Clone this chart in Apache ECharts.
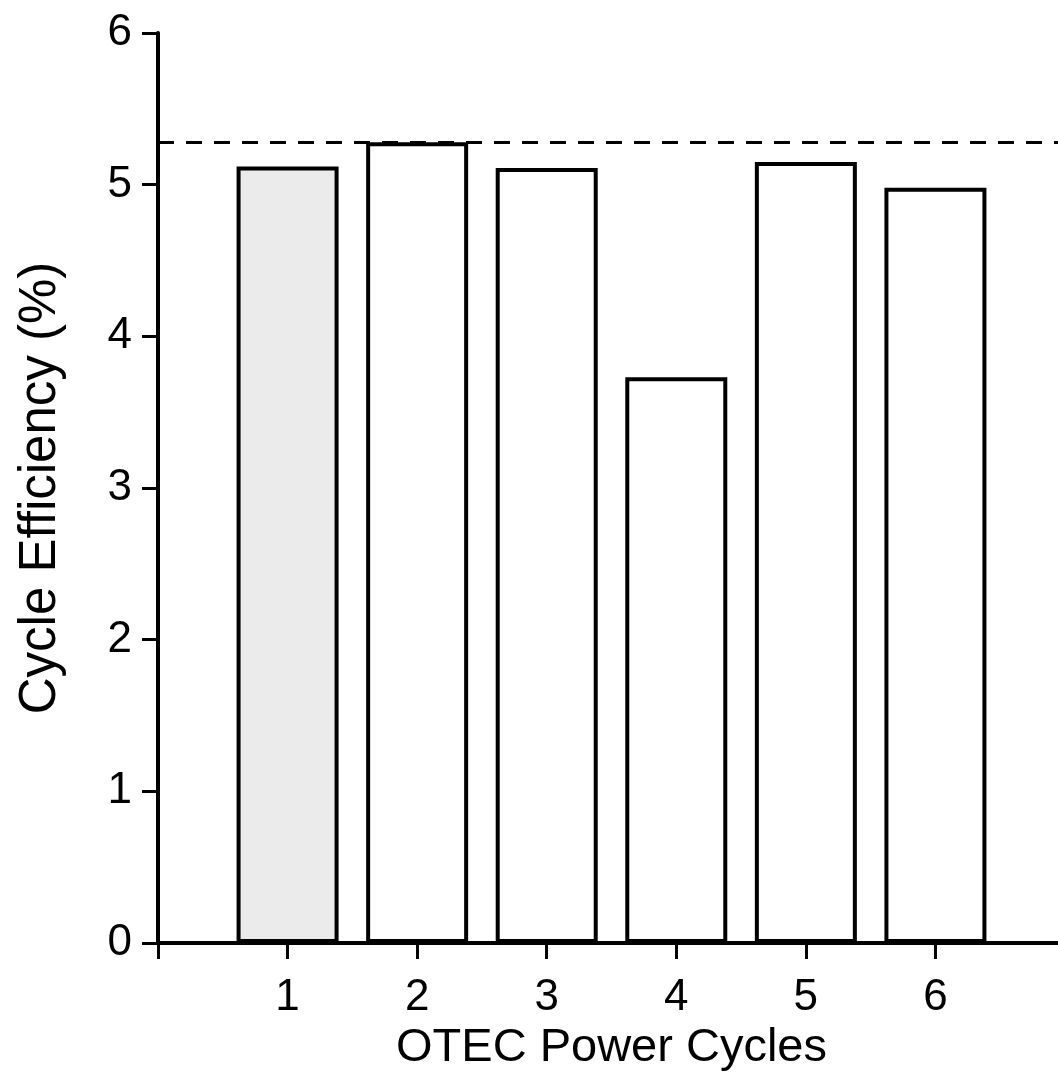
<!DOCTYPE html>
<html>
<head>
<meta charset="utf-8">
<script src="https://cdn.jsdelivr.net/npm/echarts@6/dist/echarts.min.js"></script>
<style>
  html, body { margin: 0; padding: 0; background: #fff; }
  #main { width: 1058px; height: 1087px; }
</style>
</head>
<body>
<div id="main"></div>
<script>
// data
var cycles = [1, 2, 3, 4, 5, 6];
var efficiency = [5.12, 5.28, 5.11, 3.73, 5.15, 4.98];
var barFills = ['#ebebeb', '#ffffff', '#ffffff', '#ffffff', '#ffffff', '#ffffff'];
var carnotLimit = 5.28;
var yTicks = [0, 1, 2, 3, 4, 5, 6];

var font = 'Liberation Sans, Arial, sans-serif';

var chart = echarts.init(document.getElementById('main'));

var barData = cycles.map(function (c, i) {
  return {
    value: [c, efficiency[i]],
    itemStyle: { color: barFills[i] }
  };
});

var option = {
  animation: false,
  backgroundColor: '#fff',
  // plot runs a little past the right edge of the picture
  grid: { left: 158, top: 33, width: 907, height: 910, outerBoundsMode: 'none', containLabel: false },
  xAxis: [
    {
      type: 'value',
      min: 0,
      max: 7,
      interval: 1,
      name: 'OTEC Power Cycles',
      nameLocation: 'middle',
      nameGap: 78,
      nameTextStyle: { fontFamily: font, fontSize: 47, color: '#000' },
      axisLine: { show: true, onZero: false, lineStyle: { color: '#000', width: 4 } },
      axisTick: { show: true, length: 16, lineStyle: { color: '#000', width: 3 } },
      axisLabel: {
        margin: 33,
        fontFamily: font,
        fontSize: 44,
        color: '#000',
        formatter: function (v) { return cycles.indexOf(v) >= 0 ? String(v) : ''; }
      },
      splitLine: { show: false }
    },
    {
      type: 'value',
      position: 'top',
      min: 0,
      max: 7,
      axisLine: { show: true, lineStyle: { color: '#000', width: 4 } },
      axisTick: { show: false },
      axisLabel: { show: false },
      splitLine: { show: false }
    }
  ],
  yAxis: {
    type: 'value',
    min: yTicks[0],
    max: yTicks[yTicks.length - 1],
    interval: 1,
    name: 'Cycle Efficiency (%)',
    nameLocation: 'middle',
    nameGap: 92,
    nameTextStyle: { fontFamily: font, fontSize: 51, color: '#000' },
    axisLine: { show: true, lineStyle: { color: '#000', width: 4 } },
    axisTick: { show: true, length: 16, lineStyle: { color: '#000', width: 3 } },
    axisLabel: { margin: 26, fontFamily: font, fontSize: 44, color: '#000' },
    splitLine: { show: false }
  },
  series: [
    {
      type: 'bar',
      xAxisIndex: 0,
      data: barData,
      barWidth: 102,
      itemStyle: { borderColor: '#000', borderWidth: 4 },
      markLine: {
        silent: true,
        symbol: 'none',
        label: { show: false },
        lineStyle: { color: '#000', width: 3, type: [16, 12] },
        data: [{ yAxis: carnotLimit }]
      }
    }
  ]
};

chart.setOption(option);
</script>
</body>
</html>
